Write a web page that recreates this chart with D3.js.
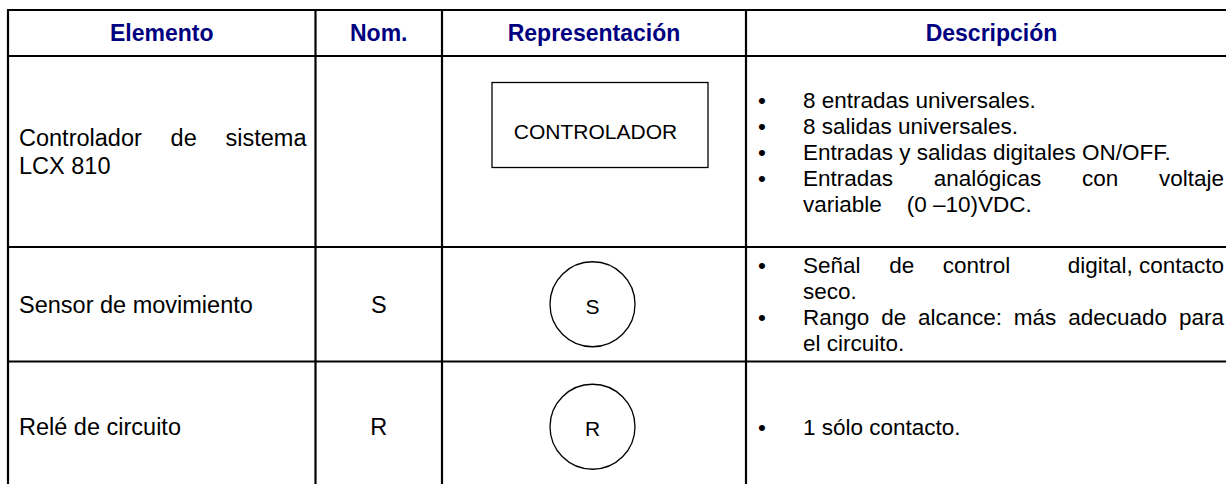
<!DOCTYPE html>
<html><head><meta charset="utf-8">
<script src="https://cdn.jsdelivr.net/npm/d3@7"></script>
<style>html,body{margin:0;padding:0;background:#fff;overflow:hidden}svg{display:block}</style>
</head><body>
<svg id="c" width="1226" height="484"></svg>
<script>
// ---- data ----
const headers = ["Elemento", "Nom.", "Representación", "Descripción"];
const elementLines = [["Controlador de sistema", "LCX 810"], ["Sensor de movimiento"], ["Relé de circuito"]];
const elementJustify = [[true, false], [false], [false]];
const noms = ["", "S", "R"];
const symbolShapes = ["rect", "circle", "circle"];
const symbolLabels = ["CONTROLADOR", "S", "R"];
const descriptions = [
  [["8 entradas universales."], ["8 salidas universales."], ["Entradas y salidas digitales ON/OFF."],
   ["Entradas analógicas con voltaje", "variable    (0 \u201310)VDC."]],
  [["Señal de control  digital,\u00a0contacto", "seco."], ["Rango de alcance: más adecuado para", "el circuito."]],
  [["1 sólo contacto."]]
];

// ---- layout ----
const colEdges = [8, 315.5, 442, 746, 1237];
const rowEdges = [10, 56, 247, 361.5, 492];
const FONT = "'Liberation Sans', Arial, sans-serif";
const headFS = 23, bodyFS = 23.5, descFS = 22.5, symFS = 21;
const descLH = 26, elemLH = 28;
const cap = fs => fs * 0.716;

const svg = d3.select("#c");
const x = d3.scaleLinear().domain(d3.range(colEdges.length)).range(colEdges);
const y = d3.scaleLinear().domain(d3.range(rowEdges.length)).range(rowEdges);
const cx = i => (x(i) + x(i + 1)) / 2;
const cy = r => (y(r) + y(r + 1)) / 2;

// measuring helper
const meas = svg.append("text").attr("font-family", FONT).attr("visibility", "hidden").style("white-space", "pre");
function textW(s, fs) { meas.attr("font-size", fs).text(s); return meas.node().getComputedTextLength(); }

function drawLine(g, str, x0, x1, base, justify, fs) {
  if (!justify) {
    g.append("text").attr("x", x0).attr("y", base).attr("font-family", FONT).attr("font-size", fs)
      .attr("fill", "#000").style("white-space", "pre").text(str);
    return;
  }
  const words = str.split(" ");
  const widths = words.map(w => w ? textW(w, fs) : 0);
  const gap = (x1 - x0 - d3.sum(widths)) / (words.length - 1);
  let cur = x0;
  words.forEach((w, i) => {
    if (w) g.append("text").attr("x", cur).attr("y", base).attr("font-family", FONT)
      .attr("font-size", fs).attr("fill", "#000").style("white-space", "pre").text(w);
    cur += widths[i] + gap;
  });
}

// header
const hg = svg.append("g");
headers.forEach((h, i) => {
  hg.append("text").attr("x", cx(i)).attr("y", cy(0) + cap(headFS) / 2)
    .attr("text-anchor", "middle").attr("font-family", FONT).attr("font-weight", "bold")
    .attr("font-size", headFS).attr("fill", "#000080").text(h);
});

// body rows
const bg = svg.append("g");
elementLines.forEach((lines, r) => {
  const row = r + 1;
  const c0 = cy(row) - (lines.length - 1) * elemLH / 2;
  lines.forEach((ln, k) => drawLine(bg, ln, x(0) + 11, x(1) - 9, c0 + k * elemLH + cap(bodyFS) / 2, elementJustify[r][k], bodyFS));
  if (noms[r]) bg.append("text").attr("x", cx(1)).attr("y", cy(row) + cap(bodyFS) / 2)
    .attr("text-anchor", "middle").attr("font-family", FONT).attr("font-size", bodyFS).text(noms[r]);

  // symbol
  if (symbolShapes[r] === "rect") {
    const rw = 216, rh = 85, rcx = cx(2) + 6, rcy = y(row) + 69;
    bg.append("rect").attr("x", rcx - rw / 2).attr("y", rcy - rh / 2).attr("width", rw).attr("height", rh)
      .attr("fill", "none").attr("stroke", "#000").attr("stroke-width", 1.3);
    bg.append("text").attr("x", cx(2) + 1.5).attr("y", rcy + 6 + cap(symFS) / 2).attr("text-anchor", "middle")
      .attr("font-family", FONT).attr("font-size", symFS).text(symbolLabels[r]);
  } else {
    const ccx = cx(2) - 1.5, ccy = cy(row);
    bg.append("circle").attr("cx", ccx).attr("cy", ccy).attr("r", 42.5)
      .attr("fill", "none").attr("stroke", "#000").attr("stroke-width", 1.3);
    bg.append("text").attr("x", ccx).attr("y", ccy + 2 + cap(symFS) / 2).attr("text-anchor", "middle")
      .attr("font-family", FONT).attr("font-size", symFS).text(symbolLabels[r]);
  }

  // description bullets
  const paras = descriptions[r];
  const nLines = d3.sum(paras, p => p.length);
  let c = cy(row) - (nLines - 1) * descLH / 2;
  paras.forEach(p => {
    bg.append("text").attr("x", x(3) + 16).attr("y", c + cap(descFS) / 2).attr("text-anchor", "middle")
      .attr("font-family", FONT).attr("font-size", descFS).text("\u2022");
    p.forEach((ln, k) => {
      drawLine(bg, ln, x(3) + 57, x(4) - 13, c + cap(descFS) / 2, k < p.length - 1, descFS);
      c += descLH;
    });
  });
});
meas.remove();

// grid lines
const lg = svg.append("g").attr("stroke", "#000").attr("stroke-width", 2.2);
rowEdges.slice(0, 4).forEach((v, i) => lg.append("line").attr("x1", x(0) - 1).attr("x2", 1226)
  .attr("y1", y(i)).attr("y2", y(i)));
colEdges.slice(0, 4).forEach((v, i) => lg.append("line").attr("x1", x(i)).attr("x2", x(i))
  .attr("y1", y(0)).attr("y2", 484));
</script>
</body></html>
